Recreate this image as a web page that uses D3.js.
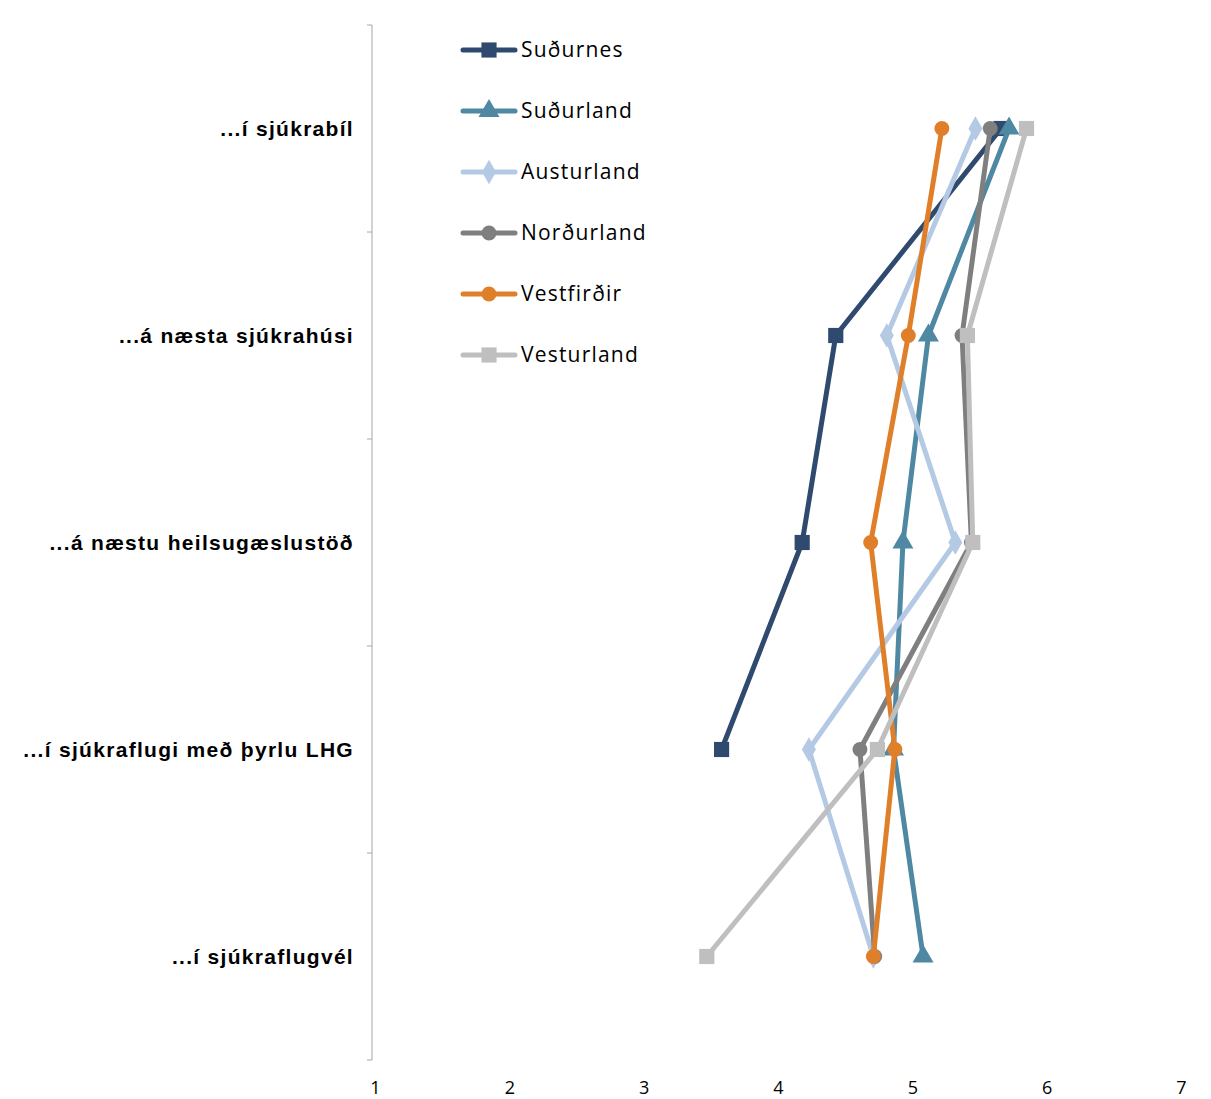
<!DOCTYPE html>
<html>
<head>
<meta charset="utf-8">
<script src="https://cdn.jsdelivr.net/npm/d3@7"></script>
<style>
  body { margin: 0; background: #fff; }
  svg { display: block; }
</style>
</head>
<body>
<script>
const categories = [
  "...í sjúkrabíl",
  "...á næsta sjúkrahúsi",
  "...á næstu heilsugæslustöð",
  "...í sjúkraflugi með þyrlu LHG",
  "...í sjúkraflugvél"
];
const seriesNames = ["Suðurnes", "Suðurland", "Austurland", "Norðurland", "Vestfirðir", "Vesturland"];
const sudurnes   = [5.66, 4.43, 4.18, 3.58, null];
const sudurland  = [5.72, 5.12, 4.93, 4.86, 5.08];
const austurland = [5.47, 4.81, 5.32, 4.23, 4.71];
const nordurland = [5.58, 5.37, 5.44, 4.61, 4.72];
const vestfirdir = [5.22, 4.97, 4.69, 4.87, 4.71];
const vesturland = [5.85, 5.41, 5.45, 4.74, 3.47];
const xTicks = [1, 2, 3, 4, 5, 6, 7];

const colors = ["#2f4a6e", "#4f88a2", "#b4c9e4", "#7f7f7f", "#e07f2a", "#bfbfbf"];
const symbols = [d3.symbolSquare, d3.symbolTriangle, d3.symbolDiamond, d3.symbolCircle, d3.symbolCircle, d3.symbolSquare];
const symbolSize = [230, 190, 170, 175, 175, 230];
const values = [sudurnes, sudurland, austurland, nordurland, vestfirdir, vesturland];

const width = 1211, height = 1099;
const plotTop = 25, plotBottom = 1060, plotLeft = 375, plotRight = 1181;

const svg = d3.select("body").append("svg")
    .attr("width", width)
    .attr("height", height);

const x = d3.scaleLinear().domain([1, 7]).range([plotLeft, plotRight]);
const y = d3.scaleBand().domain(categories).range([plotTop, plotBottom]).padding(0);
const yc = c => y(c) + y.bandwidth() / 2;

// vertical axis line and boundary ticks
const axisX = 372;
svg.append("line")
    .attr("x1", axisX).attr("x2", axisX)
    .attr("y1", plotTop).attr("y2", plotBottom)
    .attr("stroke", "#a6a6a6").attr("stroke-width", 1);
svg.append("g")
  .selectAll("line")
  .data(categories.map(c => y(c)).concat([plotBottom]))
  .join("line")
    .attr("x1", axisX - 5).attr("x2", axisX)
    .attr("y1", d => d).attr("y2", d => d)
    .attr("stroke", "#a6a6a6");

// category labels
svg.append("g")
    .attr("transform", `translate(${axisX},0)`)
    .call(d3.axisLeft(d3.scalePoint().domain(categories).range([yc(categories[0]), yc(categories[4])])).tickSize(0).tickPadding(18))
    .call(g => g.select(".domain").remove())
    .call(g => g.selectAll("text")
      .attr("font-family", "Liberation Sans, Arial, sans-serif")
      .attr("font-weight", "bold")
      .attr("font-size", 21)
      .attr("letter-spacing", 1.3)
      .attr("fill", "#000"));

// x tick labels
svg.append("g")
    .attr("transform", `translate(0,${plotBottom})`)
    .call(d3.axisBottom(x).tickValues(xTicks).tickFormat(d3.format("d")).tickSize(0).tickPadding(21))
    .call(g => g.select(".domain").remove())
    .call(g => g.selectAll("text")
      .attr("font-family", "Open Sans, sans-serif")
      .attr("font-size", 18)
      .attr("fill", "#000"));

// series
const line = d3.line()
    .defined(d => d.v != null)
    .x(d => x(d.v))
    .y(d => yc(d.c));

seriesNames.forEach((name, i) => {
  const pts = categories.map((c, j) => ({c, v: values[i][j]}));
  const g = svg.append("g");
  g.append("path")
      .datum(pts)
      .attr("fill", "none")
      .attr("stroke", colors[i])
      .attr("stroke-width", 5)
      .attr("stroke-linejoin", "round")
      .attr("stroke-linecap", "round")
      .attr("d", line);
  g.selectAll("path.m")
    .data(pts.filter(d => d.v != null))
    .join("path")
      .attr("class", "m")
      .attr("transform", d => `translate(${x(d.v)},${yc(d.c)})`)
      .attr("fill", colors[i])
      .attr("d", d3.symbol(symbols[i], symbolSize[i]));
});

// legend
const legend = svg.append("g").attr("transform", "translate(463,50)");
seriesNames.forEach((name, i) => {
  const row = legend.append("g").attr("transform", `translate(0,${i * 61})`);
  row.append("line")
      .attr("x1", 0).attr("x2", 52)
      .attr("stroke", colors[i])
      .attr("stroke-width", 5)
      .attr("stroke-linecap", "round");
  row.append("path")
      .attr("transform", "translate(26,0)")
      .attr("fill", colors[i])
      .attr("d", d3.symbol(symbols[i], symbolSize[i]));
  row.append("text")
      .attr("x", 58)
      .attr("dy", "0.35em")
      .attr("font-family", "Open Sans, sans-serif")
      .attr("font-size", 21)
      .attr("letter-spacing", 1.2)
      .attr("fill", "#000")
      .text(name);
});
</script>
</body>
</html>
